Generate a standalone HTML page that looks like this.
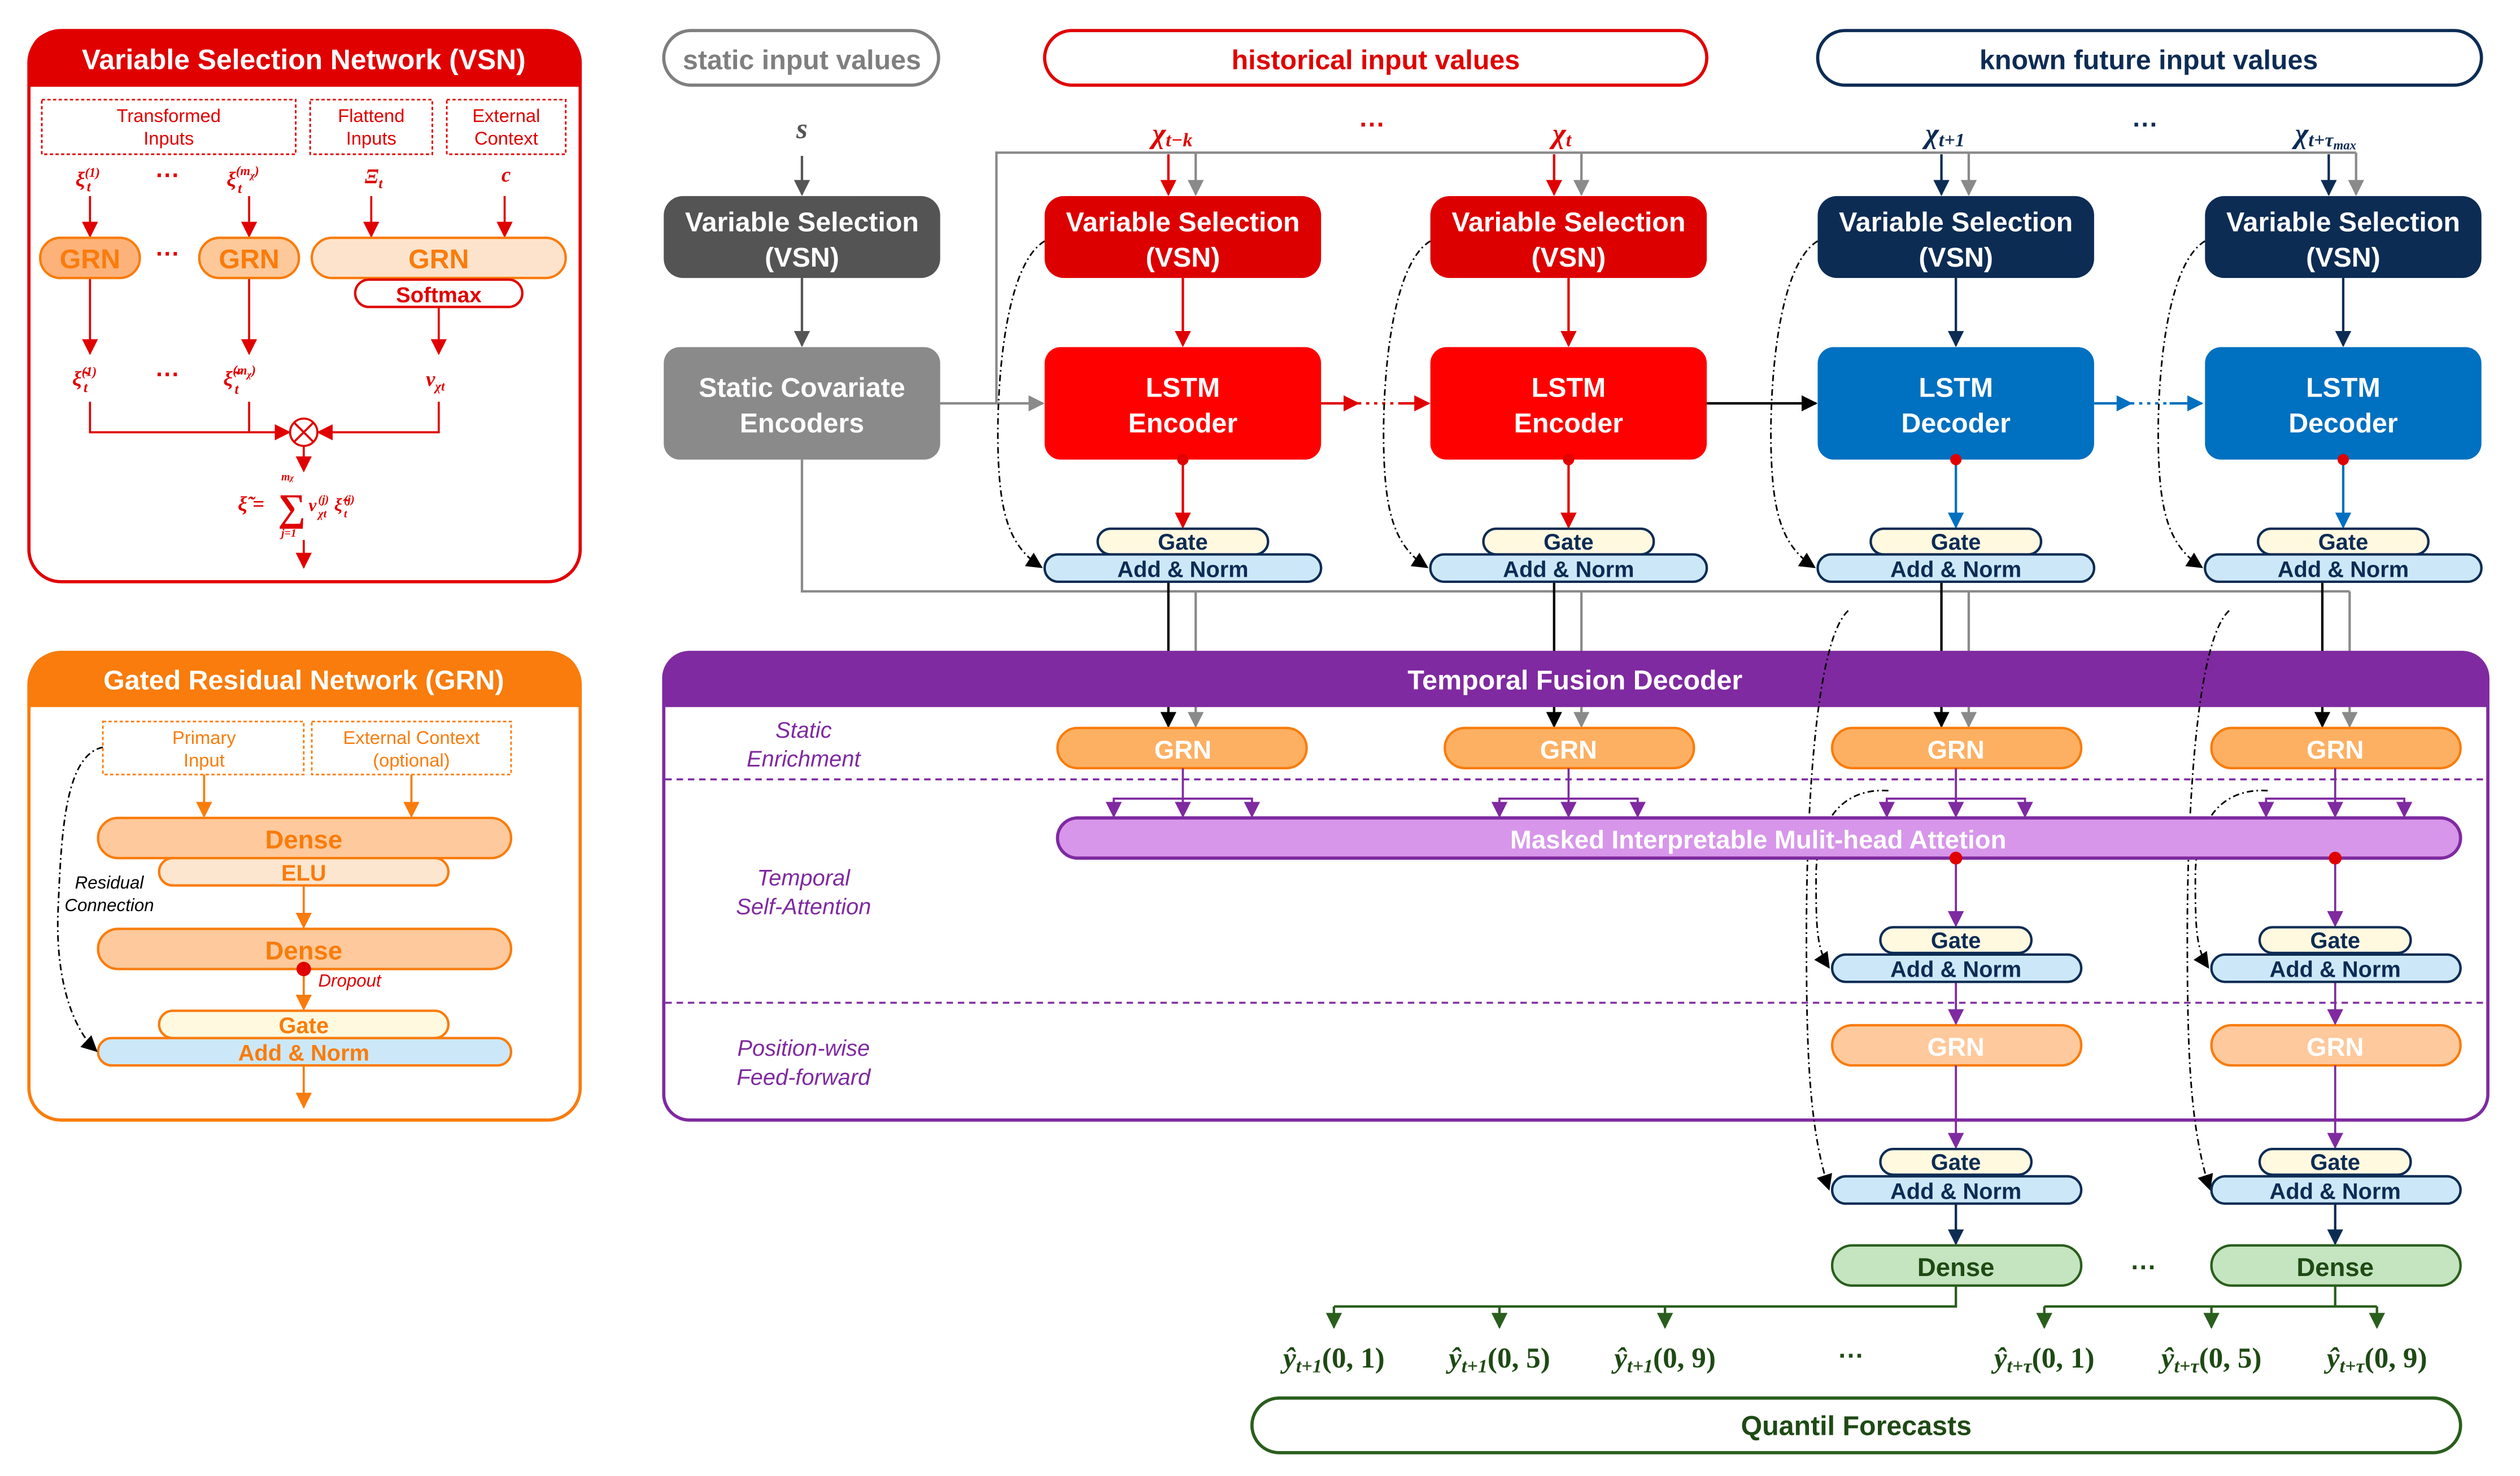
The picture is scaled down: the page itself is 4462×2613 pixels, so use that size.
<!DOCTYPE html>
<html><head><meta charset="utf-8"><style>
html,body{margin:0;padding:0;background:#fff;}
svg{display:block;}
text{font-family:"Liberation Sans",sans-serif;}
.m, .m text{font-family:"Liberation Serif",serif;font-style:italic;font-weight:bold;}
</style></head><body>
<svg width="4462" height="2613" viewBox="0 0 1568 918.5" preserveAspectRatio="none" xmlns="http://www.w3.org/2000/svg">
<defs>
<marker id="aR" markerWidth="10" markerHeight="10" refX="9" refY="5" orient="auto" markerUnits="userSpaceOnUse"><path d="M0,0L10,5L0,10z" fill="#e00000"/></marker>
<marker id="aO" markerWidth="10" markerHeight="10" refX="9" refY="5" orient="auto" markerUnits="userSpaceOnUse"><path d="M0,0L10,5L0,10z" fill="#f97c0c"/></marker>
<marker id="aG" markerWidth="10" markerHeight="10" refX="9" refY="5" orient="auto" markerUnits="userSpaceOnUse"><path d="M0,0L10,5L0,10z" fill="#8a8a8a"/></marker>
<marker id="aD" markerWidth="10" markerHeight="10" refX="9" refY="5" orient="auto" markerUnits="userSpaceOnUse"><path d="M0,0L10,5L0,10z" fill="#555"/></marker>
<marker id="aK" markerWidth="10" markerHeight="10" refX="9" refY="5" orient="auto" markerUnits="userSpaceOnUse"><path d="M0,0L10,5L0,10z" fill="#000"/></marker>
<marker id="aB" markerWidth="10" markerHeight="10" refX="9" refY="5" orient="auto" markerUnits="userSpaceOnUse"><path d="M0,0L10,5L0,10z" fill="#0070c0"/></marker>
<marker id="aN" markerWidth="10" markerHeight="10" refX="9" refY="5" orient="auto" markerUnits="userSpaceOnUse"><path d="M0,0L10,5L0,10z" fill="#0d2c54"/></marker>
<marker id="aP" markerWidth="10" markerHeight="10" refX="9" refY="5" orient="auto" markerUnits="userSpaceOnUse"><path d="M0,0L10,5L0,10z" fill="#7f2aa0"/></marker>
<marker id="aV" markerWidth="10" markerHeight="10" refX="9" refY="5" orient="auto" markerUnits="userSpaceOnUse"><path d="M0,0L10,5L0,10z" fill="#2a5e1d"/></marker>
</defs>

<!-- ===== VSN panel ===== -->
<rect x="18" y="19" width="343" height="343" rx="20" fill="#fff" stroke="#e00000" stroke-width="2"/>
<path d="M18,54 L18,39 Q18,19 38,19 L341,19 Q361,19 361,39 L361,54 Z" fill="#e00000"/>
<text x="189" y="43" font-size="17.5" font-weight="bold" fill="#fff" text-anchor="middle">Variable Selection Network (VSN)</text>
<g fill="none" stroke="#e00000" stroke-dasharray="2,1.5" stroke-width="1">
<rect x="26" y="62" width="158" height="34"/><rect x="193" y="62" width="76" height="34"/><rect x="278" y="62" width="74" height="34"/></g>
<g font-size="11.5" fill="#e00000" text-anchor="middle">
<text x="105" y="76">Transformed</text><text x="105" y="90">Inputs</text>
<text x="231" y="76">Flattend</text><text x="231" y="90">Inputs</text>
<text x="315" y="76">External</text><text x="315" y="90">Context</text></g>
<g class="m" fill="#e00000" font-size="13">
<text x="47" y="116">ξ<tspan font-size="8" dy="-6">(1)</tspan></text><text x="54" y="119" font-size="9">t</text>
<text x="141" y="116">ξ<tspan font-size="8" dy="-7">(m</tspan><tspan font-size="6" dy="2">χ</tspan><tspan font-size="8" dy="-2">)</tspan></text><text x="148" y="120" font-size="9">t</text>
<text x="227" y="114">Ξ<tspan font-size="9" dy="3">t</tspan></text>
<text x="312" y="113">c</text>
<text x="45" y="240">ξ̃<tspan font-size="8" dy="-6">(1)</tspan></text><text x="52" y="244" font-size="9">t</text>
<text x="139" y="240">ξ̃<tspan font-size="8" dy="-7">(m</tspan><tspan font-size="6" dy="2">χ</tspan><tspan font-size="8" dy="-2">)</tspan></text><text x="146" y="245" font-size="9">t</text>
<text x="265" y="240">v<tspan font-size="8" dy="3">χt</tspan></text>
<text x="148" y="318">ξ̃ =</text>
<text x="173" y="324" font-size="24" font-style="normal">∑</text>
<text x="175" y="299" font-size="7">m<tspan font-size="5">χ</tspan></text>
<text x="175" y="334" font-size="7">j=1</text>
<text x="192" y="318" font-size="11">v</text><text x="198" y="313" font-size="7">(j)</text><text x="198" y="322" font-size="7">χt</text>
<text x="208" y="318" font-size="11">ξ̃</text><text x="214" y="313" font-size="7">(j)</text><text x="214" y="322" font-size="7">t</text>
</g>
<g font-size="15" font-weight="bold" fill="#e00000"><text x="97" y="114">···</text><text x="97" y="238">···</text><text x="97" y="163" fill="#e00000">···</text></g>
<g stroke="#e00000" stroke-width="1.3" fill="none">
<line x1="56" y1="122" x2="56" y2="147" marker-end="url(#aR)"/>
<line x1="155" y1="122" x2="155" y2="147" marker-end="url(#aR)"/>
<line x1="231" y1="122" x2="231" y2="147" marker-end="url(#aR)"/>
<line x1="314" y1="122" x2="314" y2="147" marker-end="url(#aR)"/>
<line x1="56" y1="173" x2="56" y2="220" marker-end="url(#aR)"/>
<line x1="155" y1="173" x2="155" y2="220" marker-end="url(#aR)"/>
<line x1="273" y1="191" x2="273" y2="220" marker-end="url(#aR)"/>
<polyline points="56,250 56,269 180,269" marker-end="url(#aR)"/>
<line x1="155" y1="250" x2="155" y2="269"/>
<polyline points="273,250 273,269 198,269" marker-end="url(#aR)"/>
<line x1="189" y1="278" x2="189" y2="293" marker-end="url(#aR)"/>
<line x1="189" y1="336" x2="189" y2="353" marker-end="url(#aR)"/>
<circle cx="189" cy="269" r="8.5" fill="#fff"/>
<path d="M183,263L195,275M195,263L183,275"/>
</g>
<g stroke="#f97c0c" stroke-width="1.5">
<rect x="25" y="148" width="62" height="25" rx="12.5" fill="#fdb27a"/>
<rect x="124" y="148" width="62" height="25" rx="12.5" fill="#fdc99a"/>
<rect x="194" y="148" width="158" height="25" rx="12.5" fill="#fde3cc"/></g>
<g font-size="17" font-weight="bold" fill="#f97c0c" text-anchor="middle">
<text x="56" y="167">GRN</text><text x="155" y="167">GRN</text><text x="273" y="167">GRN</text></g>
<rect x="221" y="174" width="104" height="17" rx="8.5" fill="#fff" stroke="#e00000" stroke-width="1.5"/>
<text x="273" y="188" font-size="13.5" font-weight="bold" fill="#e00000" text-anchor="middle">Softmax</text>

<!-- ===== GRN panel ===== -->
<rect x="18" y="406" width="343" height="291" rx="20" fill="#fff" stroke="#f97c0c" stroke-width="2"/>
<path d="M18,440 L18,426 Q18,406 38,406 L341,406 Q361,406 361,426 L361,440 Z" fill="#f97c0c"/>
<text x="189" y="429" font-size="17" font-weight="bold" fill="#fff" text-anchor="middle">Gated Residual Network (GRN)</text>
<g fill="none" stroke="#f97c0c" stroke-dasharray="2,1.5" stroke-width="1">
<rect x="64" y="449" width="125" height="33"/><rect x="194" y="449" width="124" height="33"/></g>
<g font-size="11.5" fill="#f97c0c" text-anchor="middle">
<text x="127" y="463">Primary</text><text x="127" y="477">Input</text>
<text x="256" y="463">External Context</text><text x="256" y="477">(optional)</text></g>
<g stroke="#f97c0c" stroke-width="1.3" fill="none">
<line x1="127" y1="482" x2="127" y2="508" marker-end="url(#aO)"/>
<line x1="256" y1="482" x2="256" y2="508" marker-end="url(#aO)"/>
<line x1="189" y1="551" x2="189" y2="577" marker-end="url(#aO)"/>
<line x1="189" y1="603" x2="189" y2="628" marker-end="url(#aO)"/>
<line x1="189" y1="663" x2="189" y2="689" marker-end="url(#aO)"/>
</g>
<g stroke="#f97c0c" stroke-width="1.5">
<rect x="61" y="509" width="257" height="25" rx="12.5" fill="#fec99c"/>
<rect x="99" y="534" width="180" height="17" rx="8.5" fill="#fde6cf"/>
<rect x="61" y="578" width="257" height="25" rx="12.5" fill="#fec99c"/>
<rect x="99" y="629" width="180" height="17" rx="8.5" fill="#fff9e0"/>
<rect x="61" y="646" width="257" height="17" rx="8.5" fill="#cce8f8"/></g>
<g font-size="16" font-weight="bold" fill="#f97c0c" text-anchor="middle">
<text x="189" y="528">Dense</text><text x="189" y="548" font-size="14">ELU</text>
<text x="189" y="597">Dense</text><text x="189" y="643" font-size="14">Gate</text>
<text x="189" y="660" font-size="14">Add &amp; Norm</text></g>
<circle cx="189" cy="603" r="4.5" fill="#e00000"/>
<text x="198" y="614" font-size="11" font-style="italic" fill="#e00000">Dropout</text>
<text x="68" y="553" font-size="11" font-style="italic" fill="#000" text-anchor="middle">Residual</text>
<text x="68" y="567" font-size="11" font-style="italic" fill="#000" text-anchor="middle">Connection</text>
<path d="M64,465 C40,470 38,520 36,570 C35,610 45,640 60,654" fill="none" stroke="#000" stroke-width="1" stroke-dasharray="4,2,1,2" marker-end="url(#aK)"/>

<!-- ===== Top input labels ===== -->
<rect x="413" y="19" width="171" height="34" rx="17" fill="#fff" stroke="#7f7f7f" stroke-width="2"/>
<text x="499" y="43" font-size="17" font-weight="bold" fill="#7f7f7f" text-anchor="middle">static input values</text>
<rect x="650" y="19" width="412" height="34" rx="17" fill="#fff" stroke="#e00000" stroke-width="2"/>
<text x="856" y="43" font-size="17" font-weight="bold" fill="#e00000" text-anchor="middle">historical input values</text>
<rect x="1131" y="19" width="413" height="34" rx="17" fill="#fff" stroke="#0d2c54" stroke-width="2"/>
<text x="1337" y="43" font-size="17" font-weight="bold" fill="#0d2c54" text-anchor="middle">known future input values</text>

<g class="m" font-size="18">
<text x="499" y="86" fill="#555" text-anchor="middle">s</text>
<text x="717" y="89" fill="#e00000">χ<tspan font-size="12" dy="2">t−k</tspan></text>
<text x="966" y="89" fill="#e00000">χ<tspan font-size="12" dy="2">t</tspan></text>
<text x="1198" y="89" fill="#0d2c54">χ<tspan font-size="12" dy="2">t+1</tspan></text>
<text x="1428" y="89" fill="#0d2c54">χ<tspan font-size="12" dy="2">t+τ</tspan><tspan font-size="8" dy="2">max</tspan></text>
</g>
<g font-size="16" font-weight="bold"><text x="846" y="83" fill="#e00000">···</text><text x="1327" y="83" fill="#0d2c54">···</text></g>

<!-- gray static context lines -->
<g stroke="#8a8a8a" stroke-width="1.5" fill="none">
<polyline points="620,251 620,95 1466,95"/>
<line x1="744" y1="95" x2="744" y2="121" marker-end="url(#aG)"/>
<line x1="984" y1="95" x2="984" y2="121" marker-end="url(#aG)"/>
<line x1="1225" y1="95" x2="1225" y2="121" marker-end="url(#aG)"/>
<line x1="1466" y1="95" x2="1466" y2="121" marker-end="url(#aG)"/>
<line x1="585" y1="251" x2="649" y2="251" marker-end="url(#aG)"/>
<polyline points="499,286 499,368 1462,368"/>
<line x1="744" y1="368" x2="744" y2="452" marker-end="url(#aG)"/>
<line x1="984" y1="368" x2="984" y2="452" marker-end="url(#aG)"/>
<line x1="1225" y1="368" x2="1225" y2="452" marker-end="url(#aG)"/>
<line x1="1462" y1="368" x2="1462" y2="452" marker-end="url(#aG)"/>
</g>
<g stroke-width="1.5" fill="none">
<line x1="499" y1="97" x2="499" y2="121" stroke="#555" marker-end="url(#aD)"/>
<line x1="499" y1="173" x2="499" y2="215" stroke="#555" marker-end="url(#aD)"/>
<line x1="727" y1="96" x2="727" y2="121" stroke="#e00000" marker-end="url(#aR)"/>
<line x1="967" y1="96" x2="967" y2="121" stroke="#e00000" marker-end="url(#aR)"/>
<line x1="1208" y1="96" x2="1208" y2="121" stroke="#0d2c54" marker-end="url(#aN)"/>
<line x1="1449" y1="96" x2="1449" y2="121" stroke="#0d2c54" marker-end="url(#aN)"/>
<line x1="736" y1="173" x2="736" y2="215" stroke="#e00000" marker-end="url(#aR)"/>
<line x1="976" y1="173" x2="976" y2="215" stroke="#e00000" marker-end="url(#aR)"/>
<line x1="1217" y1="173" x2="1217" y2="215" stroke="#0d2c54" marker-end="url(#aN)"/>
<line x1="1458" y1="173" x2="1458" y2="215" stroke="#0d2c54" marker-end="url(#aN)"/>
<line x1="736" y1="286" x2="736" y2="328" stroke="#e00000" marker-end="url(#aR)"/>
<line x1="976" y1="286" x2="976" y2="328" stroke="#e00000" marker-end="url(#aR)"/>
<line x1="1217" y1="286" x2="1217" y2="328" stroke="#0070c0" marker-end="url(#aB)"/>
<line x1="1458" y1="286" x2="1458" y2="328" stroke="#0070c0" marker-end="url(#aB)"/>
<line x1="822" y1="251" x2="845" y2="251" stroke="#e00000" marker-end="url(#aR)"/>
<line x1="845" y1="251" x2="870" y2="251" stroke="#e00000" stroke-dasharray="2,3"/>
<line x1="870" y1="251" x2="889" y2="251" stroke="#e00000" marker-end="url(#aR)"/>
<line x1="1062" y1="251" x2="1130" y2="251" stroke="#000" marker-end="url(#aK)"/>
<line x1="1303" y1="251" x2="1326" y2="251" stroke="#0070c0" marker-end="url(#aB)"/>
<line x1="1326" y1="251" x2="1350" y2="251" stroke="#0070c0" stroke-dasharray="2,3"/>
<line x1="1350" y1="251" x2="1370" y2="251" stroke="#0070c0" marker-end="url(#aB)"/>
<line x1="727" y1="362" x2="727" y2="452" stroke="#000" marker-end="url(#aK)"/>
<line x1="967" y1="362" x2="967" y2="452" stroke="#000" marker-end="url(#aK)"/>
<line x1="1208" y1="362" x2="1208" y2="452" stroke="#000" marker-end="url(#aK)"/>
<line x1="1445" y1="362" x2="1445" y2="452" stroke="#000" marker-end="url(#aK)"/>
</g>

<!-- VSN boxes -->
<rect x="413" y="122" width="172" height="51" rx="12" fill="#545454"/>
<rect x="650" y="122" width="172" height="51" rx="12" fill="#dd0000"/>
<rect x="890" y="122" width="172" height="51" rx="12" fill="#dd0000"/>
<rect x="1131" y="122" width="172" height="51" rx="12" fill="#0d2c54"/>
<rect x="1372" y="122" width="172" height="51" rx="12" fill="#0d2c54"/>
<g font-size="17" font-weight="bold" fill="#fff" text-anchor="middle">
<text x="499" y="144">Variable Selection</text><text x="499" y="166">(VSN)</text>
<text x="736" y="144">Variable Selection</text><text x="736" y="166">(VSN)</text>
<text x="976" y="144">Variable Selection</text><text x="976" y="166">(VSN)</text>
<text x="1217" y="144">Variable Selection</text><text x="1217" y="166">(VSN)</text>
<text x="1458" y="144">Variable Selection</text><text x="1458" y="166">(VSN)</text>
</g>
<!-- LSTM row -->
<rect x="413" y="216" width="172" height="70" rx="10" fill="#8a8a8a"/>
<rect x="650" y="216" width="172" height="70" rx="10" fill="#ff0000"/>
<rect x="890" y="216" width="172" height="70" rx="10" fill="#ff0000"/>
<rect x="1131" y="216" width="172" height="70" rx="10" fill="#0070c0"/>
<rect x="1372" y="216" width="172" height="70" rx="10" fill="#0070c0"/>
<g font-size="17" font-weight="bold" fill="#fff" text-anchor="middle">
<text x="499" y="247">Static Covariate</text><text x="499" y="269">Encoders</text>
<text x="736" y="247">LSTM</text><text x="736" y="269">Encoder</text>
<text x="976" y="247">LSTM</text><text x="976" y="269">Encoder</text>
<text x="1217" y="247">LSTM</text><text x="1217" y="269">Decoder</text>
<text x="1458" y="247">LSTM</text><text x="1458" y="269">Decoder</text>
</g>
<g fill="#e00000"><circle cx="736" cy="286" r="3.5"/><circle cx="976" cy="286" r="3.5"/><circle cx="1217" cy="286" r="3.5"/><circle cx="1458" cy="286" r="3.5"/></g>

<!-- dash-dot residuals top -->
<g stroke="#000" stroke-width="1" fill="none" stroke-dasharray="4,2,1,2">
<path d="M650,150 C625,165 620,240 621,280 C622,320 628,340 648,353" marker-end="url(#aK)"/>
<path d="M890,150 C865,165 860,240 861,280 C862,320 868,340 888,353" marker-end="url(#aK)"/>
<path d="M1131,150 C1106,165 1101,240 1102,280 C1103,320 1109,340 1129,353" marker-end="url(#aK)"/>
<path d="M1372,150 C1347,165 1342,240 1343,280 C1344,320 1350,340 1370,353" marker-end="url(#aK)"/>
</g>

<!-- Gate / Add&Norm top -->
<g stroke="#0d2c54" stroke-width="1.5">
<rect x="683" y="329" width="106" height="16" rx="8" fill="#fff9e0"/><rect x="650" y="345" width="172" height="17" rx="8.5" fill="#cce8f8"/>
<rect x="923" y="329" width="106" height="16" rx="8" fill="#fff9e0"/><rect x="890" y="345" width="172" height="17" rx="8.5" fill="#cce8f8"/>
<rect x="1164" y="329" width="106" height="16" rx="8" fill="#fff9e0"/><rect x="1131" y="345" width="172" height="17" rx="8.5" fill="#cce8f8"/>
<rect x="1405" y="329" width="106" height="16" rx="8" fill="#fff9e0"/><rect x="1372" y="345" width="172" height="17" rx="8.5" fill="#cce8f8"/>
</g>
<g font-size="14" font-weight="bold" fill="#0d2c54" text-anchor="middle">
<text x="736" y="342">Gate</text><text x="736" y="359">Add &amp; Norm</text>
<text x="976" y="342">Gate</text><text x="976" y="359">Add &amp; Norm</text>
<text x="1217" y="342">Gate</text><text x="1217" y="359">Add &amp; Norm</text>
<text x="1458" y="342">Gate</text><text x="1458" y="359">Add &amp; Norm</text>
</g>

<!-- ===== Temporal Fusion Decoder ===== -->
<rect x="413" y="406" width="1135" height="291" rx="16" fill="none" stroke="#7f2aa0" stroke-width="2"/>
<path d="M413,440 L413,422 Q413,406 429,406 L1532,406 Q1548,406 1548,422 L1548,440 Z" fill="#7f2aa0"/>
<text x="980" y="429" font-size="17" font-weight="bold" fill="#fff" text-anchor="middle">Temporal Fusion Decoder</text>
<g stroke="#7f2aa0" stroke-width="1.2" stroke-dasharray="4,3"><line x1="414" y1="485" x2="1547" y2="485"/><line x1="414" y1="624" x2="1547" y2="624"/></g>
<g font-size="14" font-style="italic" fill="#7f2aa0" text-anchor="middle">
<text x="500" y="459">Static</text><text x="500" y="477">Enrichment</text>
<text x="500" y="551">Temporal</text><text x="500" y="569">Self-Attention</text>
<text x="500" y="657">Position-wise</text><text x="500" y="675">Feed-forward</text></g>

<!-- long residual dash-dots for decoder -->
<g stroke="#000" stroke-width="1" fill="none" stroke-dasharray="4,2,1,2">
<path d="M1150,380 C1128,400 1124,520 1124,580 C1124,650 1125,700 1138,740" marker-end="url(#aK)"/>
<path d="M1387,380 C1365,400 1361,520 1361,580 C1361,650 1362,700 1375,740" marker-end="url(#aK)"/>
<path d="M1175,492 C1140,490 1130,520 1130,545 C1130,575 1130,590 1138,602" marker-end="url(#aK)"/>
<path d="M1411,492 C1376,490 1366,520 1366,545 C1366,575 1366,590 1374,602" marker-end="url(#aK)"/>
</g>

<g stroke="#f97c0c" stroke-width="1.5" fill="#fdb062">
<rect x="658" y="453" width="155" height="25" rx="12.5"/><rect x="899" y="453" width="155" height="25" rx="12.5"/>
<rect x="1140" y="453" width="155" height="25" rx="12.5"/><rect x="1376" y="453" width="155" height="25" rx="12.5"/>
<rect x="1140" y="638" width="155" height="25" rx="12.5" fill="#fec99c"/><rect x="1376" y="638" width="155" height="25" rx="12.5" fill="#fec99c"/></g>
<g font-size="16" font-weight="bold" fill="#fff" text-anchor="middle">
<text x="736" y="472">GRN</text><text x="976" y="472">GRN</text><text x="1217" y="472">GRN</text><text x="1453" y="472">GRN</text>
<text x="1217" y="657">GRN</text><text x="1453" y="657">GRN</text></g>

<g stroke="#7f2aa0" stroke-width="1.3" fill="none">
<line x1="736" y1="478" x2="736" y2="508" marker-end="url(#aP)"/><polyline points="693,508 693,497 779,497 779,508"/>
<line x1="693" y1="500" x2="693" y2="508" marker-end="url(#aP)"/><line x1="779" y1="500" x2="779" y2="508" marker-end="url(#aP)"/>
<line x1="976" y1="478" x2="976" y2="508" marker-end="url(#aP)"/><polyline points="933,508 933,497 1019,497 1019,508"/>
<line x1="933" y1="500" x2="933" y2="508" marker-end="url(#aP)"/><line x1="1019" y1="500" x2="1019" y2="508" marker-end="url(#aP)"/>
<line x1="1217" y1="478" x2="1217" y2="508" marker-end="url(#aP)"/><polyline points="1174,508 1174,497 1260,497 1260,508"/>
<line x1="1174" y1="500" x2="1174" y2="508" marker-end="url(#aP)"/><line x1="1260" y1="500" x2="1260" y2="508" marker-end="url(#aP)"/>
<line x1="1453" y1="478" x2="1453" y2="508" marker-end="url(#aP)"/><polyline points="1410,508 1410,497 1496,497 1496,508"/>
<line x1="1410" y1="500" x2="1410" y2="508" marker-end="url(#aP)"/><line x1="1496" y1="500" x2="1496" y2="508" marker-end="url(#aP)"/>
<line x1="1217" y1="534" x2="1217" y2="576" marker-end="url(#aP)"/><line x1="1453" y1="534" x2="1453" y2="576" marker-end="url(#aP)"/>
<line x1="1217" y1="611" x2="1217" y2="637" marker-end="url(#aP)"/><line x1="1453" y1="611" x2="1453" y2="637" marker-end="url(#aP)"/>
<line x1="1217" y1="663" x2="1217" y2="714" marker-end="url(#aP)"/><line x1="1453" y1="663" x2="1453" y2="714" marker-end="url(#aP)"/>
</g>
<rect x="658" y="509" width="873" height="25" rx="12.5" fill="#d796ea" stroke="#7f2aa0" stroke-width="2"/>
<text x="1094" y="528" font-size="16" font-weight="bold" fill="#fff" text-anchor="middle">Masked Interpretable Mulit-head Attetion</text>
<circle cx="1217" cy="534" r="4" fill="#e00000"/><circle cx="1453" cy="534" r="4" fill="#e00000"/>

<g stroke="#0d2c54" stroke-width="1.5">
<rect x="1170" y="577" width="94" height="16" rx="8" fill="#fff9e0"/><rect x="1140" y="594" width="155" height="17" rx="8.5" fill="#cce8f8"/>
<rect x="1406" y="577" width="94" height="16" rx="8" fill="#fff9e0"/><rect x="1376" y="594" width="155" height="17" rx="8.5" fill="#cce8f8"/>
<rect x="1170" y="715" width="94" height="16" rx="8" fill="#fff9e0"/><rect x="1140" y="732" width="155" height="17" rx="8.5" fill="#cce8f8"/>
<rect x="1406" y="715" width="94" height="16" rx="8" fill="#fff9e0"/><rect x="1376" y="732" width="155" height="17" rx="8.5" fill="#cce8f8"/>
</g>
<g font-size="14" font-weight="bold" fill="#0d2c54" text-anchor="middle">
<text x="1217" y="590">Gate</text><text x="1217" y="608">Add &amp; Norm</text>
<text x="1453" y="590">Gate</text><text x="1453" y="608">Add &amp; Norm</text>
<text x="1217" y="728">Gate</text><text x="1217" y="746">Add &amp; Norm</text>
<text x="1453" y="728">Gate</text><text x="1453" y="746">Add &amp; Norm</text></g>

<g stroke="#0d2c54" stroke-width="1.5"><line x1="1217" y1="749" x2="1217" y2="774" marker-end="url(#aN)"/><line x1="1453" y1="749" x2="1453" y2="774" marker-end="url(#aN)"/></g>
<g stroke="#2a5e1d" stroke-width="1.5" fill="#c5e4c0">
<rect x="1140" y="775" width="155" height="25" rx="12.5"/><rect x="1376" y="775" width="155" height="25" rx="12.5"/></g>
<g font-size="16" font-weight="bold" fill="#1e4a14" text-anchor="middle"><text x="1217" y="794">Dense</text><text x="1453" y="794">Dense</text></g>
<text x="1326" y="794" font-size="16" font-weight="bold" fill="#1e4a14">···</text>

<g stroke="#2a5e1d" stroke-width="1.5" fill="none">
<polyline points="1217,800 1217,813 830,813"/>
<line x1="830" y1="813" x2="830" y2="826" marker-end="url(#aV)"/><line x1="933" y1="813" x2="933" y2="826" marker-end="url(#aV)"/><line x1="1036" y1="813" x2="1036" y2="826" marker-end="url(#aV)"/>
<polyline points="1453,800 1453,813 1272,813"/><line x1="1479" y1="813" x2="1453" y2="813"/>
<line x1="1272" y1="813" x2="1272" y2="826" marker-end="url(#aV)"/><line x1="1376" y1="813" x2="1376" y2="826" marker-end="url(#aV)"/><line x1="1479" y1="813" x2="1479" y2="826" marker-end="url(#aV)"/>
</g>
<g class="m" font-size="18" fill="#1e4a14" text-anchor="middle">
<text x="830" y="851">ŷ<tspan font-size="12" dy="3">t+1</tspan><tspan dy="-3" font-style="normal">(0, 1)</tspan></text>
<text x="933" y="851">ŷ<tspan font-size="12" dy="3">t+1</tspan><tspan dy="-3" font-style="normal">(0, 5)</tspan></text>
<text x="1036" y="851">ŷ<tspan font-size="12" dy="3">t+1</tspan><tspan dy="-3" font-style="normal">(0, 9)</tspan></text>
<text x="1272" y="851">ŷ<tspan font-size="12" dy="3">t+τ</tspan><tspan dy="-3" font-style="normal">(0, 1)</tspan></text>
<text x="1376" y="851">ŷ<tspan font-size="12" dy="3">t+τ</tspan><tspan dy="-3" font-style="normal">(0, 5)</tspan></text>
<text x="1479" y="851">ŷ<tspan font-size="12" dy="3">t+τ</tspan><tspan dy="-3" font-style="normal">(0, 9)</tspan></text>
</g>
<text x="1144" y="849" font-size="16" font-weight="bold" fill="#1e4a14">···</text>
<rect x="779" y="870" width="752" height="34" rx="17" fill="#fff" stroke="#2a5e1d" stroke-width="2"/>
<text x="1155" y="893" font-size="17" font-weight="bold" fill="#1e4a14" text-anchor="middle">Quantil Forecasts</text>
</svg>
</body></html>
